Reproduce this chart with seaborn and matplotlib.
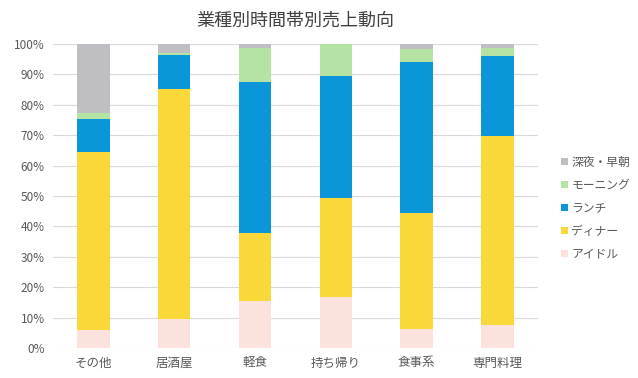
import pandas as pd
import seaborn as sns
import matplotlib.pyplot as plt
from matplotlib.ticker import PercentFormatter

categories = ["その他", "居酒屋", "軽食", "持ち帰り", "食事系", "専門料理"]
idle = [5.9, 9.5, 15.4, 16.8, 6.4, 7.6]
dinner = [58.6, 75.5, 22.3, 32.7, 38.1, 62.1]
lunch = [10.9, 11.3, 49.8, 39.8, 49.5, 26.2]
morning = [1.9, 0.7, 11.1, 10.7, 4.4, 2.7]
late_night = [22.7, 3.0, 1.4, 0.0, 1.6, 1.4]

series = ["深夜・早朝", "モーニング", "ランチ", "ディナー", "アイドル"]
colors = ["#BFBEC3", "#B5E3A4", "#0B96DA", "#FAD83A", "#FCE2DD"]

rows = []
for name, vals in zip(series, [late_night, morning, lunch, dinner, idle]):
    for cat, v in zip(categories, vals):
        rows.append({"業種": cat, "時間帯": name, "売上": v})
df = pd.DataFrame(rows)

sns.set_theme(style="white")
plt.rcParams["font.family"] = ["Noto Sans CJK JP", "DejaVu Sans"]

fig = plt.figure(figsize=(6.38, 3.78), dpi=100)
ax = fig.add_axes([0.083, 0.079, 0.76, 0.805])

sns.histplot(data=df, x="業種", weights="売上", hue="時間帯", hue_order=series,
             palette=colors, multiple="fill", shrink=0.4, discrete=True,
             alpha=1, linewidth=0, ax=ax)

ax.set_ylim(0, 1)
ax.set_xlim(-0.5, 5.5)
ax.set_yticks([i / 10 for i in range(11)])
ax.yaxis.set_major_formatter(PercentFormatter(1.0, decimals=0))
ax.grid(axis="y", color="#D9D9D9", linewidth=0.8)
ax.set_axisbelow(True)
for s in ax.spines.values():
    s.set_visible(False)
ax.tick_params(axis="y", colors="#595959", labelsize=8.5, length=0, pad=6)
ax.tick_params(axis="x", colors="#595959", labelsize=9, length=0, pad=6)
ax.set_xlabel("")
ax.set_ylabel("")
ax.set_title("業種別時間帯別売上動向", fontsize=13, color="#404040", pad=13)

sns.move_legend(ax, "center left", bbox_to_anchor=(1.025, 0.46), frameon=False,
                title=None, fontsize=8.5, handlelength=0.6, handleheight=0.6,
                handletextpad=0.3, labelspacing=0.85)
for t in ax.get_legend().get_texts():
    t.set_color("#595959")

fig.savefig("out.png", dpi=100)
